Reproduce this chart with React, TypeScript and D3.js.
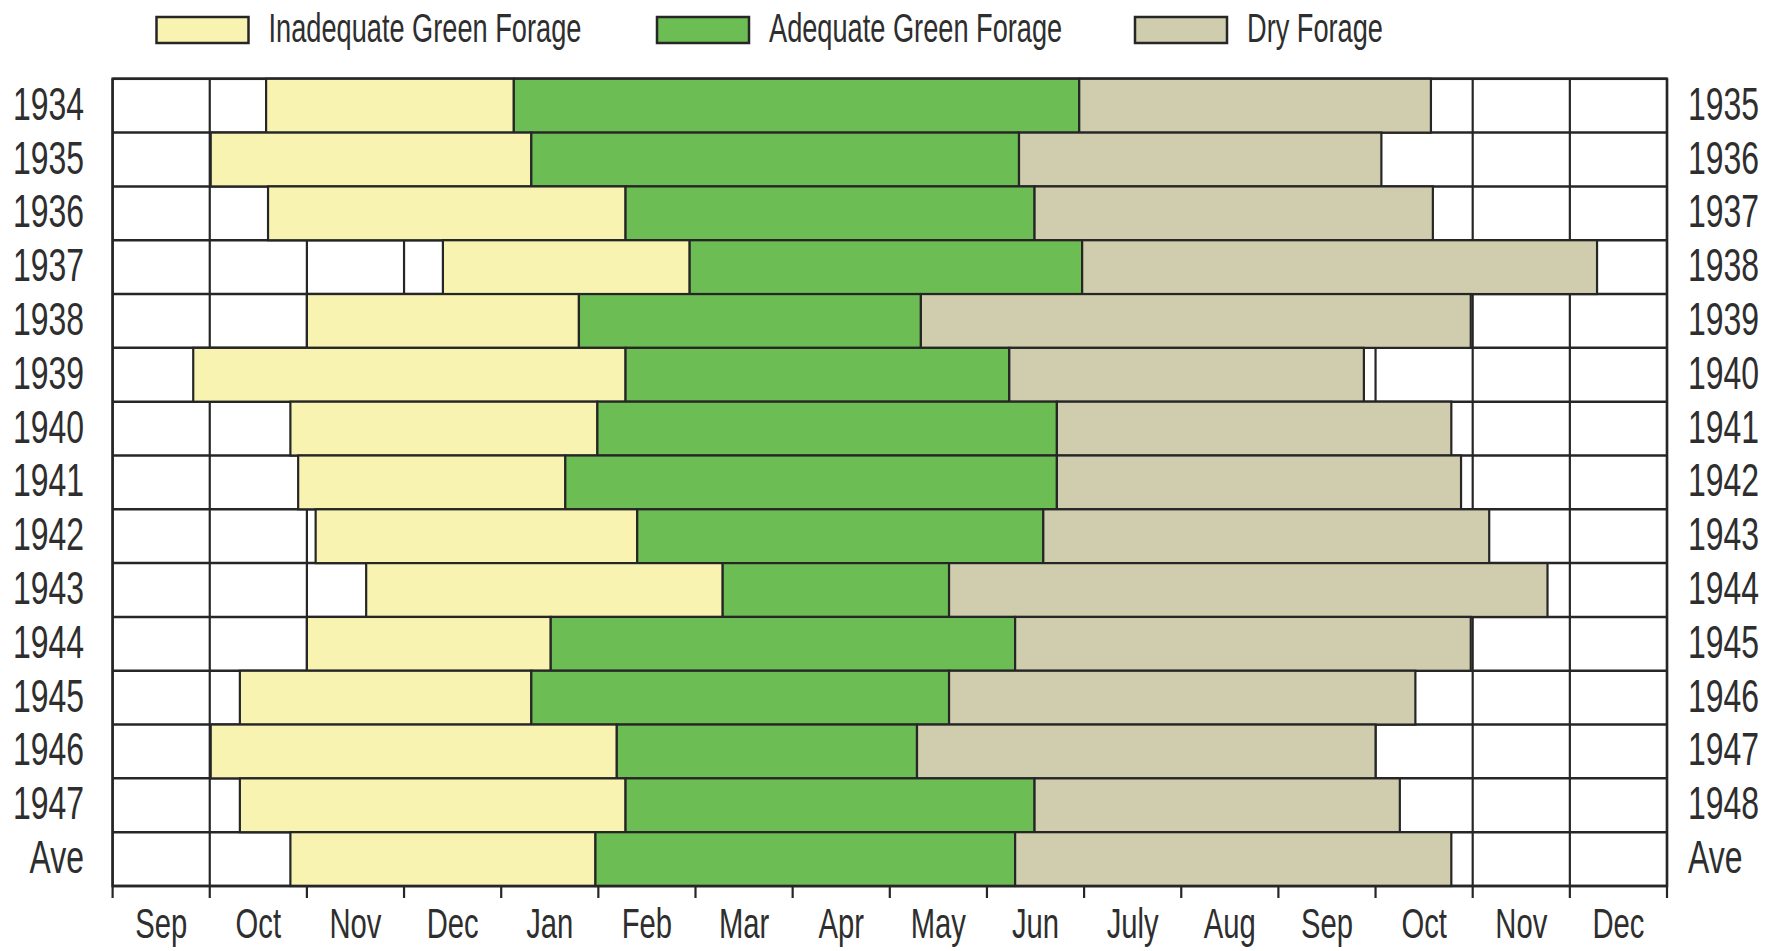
import React from 'react';
import * as d3 from 'd3';

// rows, left and right year labels
const rowLabels = ['1934', '1935', '1936', '1937', '1938', '1939', '1940', '1941', '1942', '1943', '1944', '1945', '1946', '1947', 'Ave'];
const rightLabels = ['1935', '1936', '1937', '1938', '1939', '1940', '1941', '1942', '1943', '1944', '1945', '1946', '1947', '1948', 'Ave'];
const months = ['Sep', 'Oct', 'Nov', 'Dec', 'Jan', 'Feb', 'Mar', 'Apr', 'May', 'Jun', 'July', 'Aug', 'Sep', 'Oct', 'Nov', 'Dec'];

// months counted from 1 Sep of the first year
const inadequateStart = [1.58, 1.01, 1.60, 3.40, 2.00, 0.83, 1.83, 1.91, 2.09, 2.61, 2.00, 1.31, 1.01, 1.31, 1.83];
const adequateStart = [4.13, 4.31, 5.28, 5.94, 4.80, 5.28, 4.99, 4.66, 5.40, 6.28, 4.51, 4.31, 5.19, 5.28, 4.97];
const dryStart = [9.95, 9.33, 9.49, 9.98, 8.32, 9.23, 9.72, 9.72, 9.58, 8.61, 9.29, 8.61, 8.28, 9.49, 9.29];
const dryEnd = [13.57, 13.06, 13.59, 15.28, 13.98, 12.88, 13.78, 13.88, 14.17, 14.77, 13.98, 13.41, 13.00, 13.25, 13.78];

const seriesNames = ['Inadequate Green Forage', 'Adequate Green Forage', 'Dry Forage'];
const colors = ['#f8f3b0', '#6cbd54', '#cfcdad'];

const W = 1765, H = 951;
const left = 112.6, right = 1667, top = 78.8, bottom = 886;
const ink = '#262626';
const textInk = '#2e2e2e';
const font = "'Liberation Sans', Arial, sans-serif";
const sx = 0.68;

function Label(props: { x: number; y: number; text: string; size: number; anchor?: string }) {
  return (
    <text
      transform={`translate(${props.x},${props.y}) scale(${sx},1)`}
      textAnchor={props.anchor || 'start'}
      fontSize={props.size}
      fontFamily={font}
      fill={textInk}
    >
      {props.text}
    </text>
  );
}

export default function App() {
  const x = d3.scaleLinear().domain([0, months.length]).range([left, right]);
  const y = d3.scaleBand<string>().domain(rowLabels).range([top, bottom]).padding(0);
  const bh = y.bandwidth();

  const bars = rowLabels.map((r, i) => [
    { s: 0, a: inadequateStart[i], b: adequateStart[i] },
    { s: 1, a: adequateStart[i], b: dryStart[i] },
    { s: 2, a: dryStart[i], b: dryEnd[i] },
  ]);

  const ticks = d3.range(0, months.length + 1);
  const legendX = [156.5, 657, 1135];

  return (
    <svg width={W} height={H} style={{ position: 'absolute', left: 0, top: 0, background: '#fff' }}>
      {/* legend */}
      {seriesNames.map((n, i) => (
        <g key={n}>
          <rect x={legendX[i]} y={17} width={92} height={26} fill={colors[i]} stroke={ink} strokeWidth={2.5} />
          <Label x={legendX[i] + 112} y={42} text={n} size={40} />
        </g>
      ))}

      {/* grid */}
      <rect x={left} y={top} width={right - left} height={bottom - top} fill="#fff" stroke={ink} strokeWidth={2.5} />
      {ticks.map((t) => (
        <line key={'v' + t} x1={x(t)} x2={x(t)} y1={top} y2={bottom} stroke={ink} strokeWidth={2.2} />
      ))}
      {rowLabels.map((r) => (
        <line key={'h' + r} x1={left} x2={right} y1={y(r)!} y2={y(r)!} stroke={ink} strokeWidth={2.5} />
      ))}

      {/* bars */}
      {rowLabels.map((r, i) => (
        <g key={'b' + r}>
          {bars[i].map((d) => (
            <rect
              key={d.s}
              x={x(d.a)}
              y={y(r)!}
              width={x(d.b) - x(d.a)}
              height={bh}
              fill={colors[d.s]}
              stroke={ink}
              strokeWidth={2.2}
            />
          ))}
        </g>
      ))}

      {/* bottom axis */}
      <line x1={left} x2={right} y1={bottom} y2={bottom} stroke={ink} strokeWidth={2.5} />
      {ticks.map((t) => (
        <line key={'t' + t} x1={x(t)} x2={x(t)} y1={bottom} y2={bottom + 12} stroke={ink} strokeWidth={2.2} />
      ))}
      {months.map((m, i) => (
        <Label key={'m' + i} x={x(i + 0.5)} y={938} text={m} size={43} anchor="middle" />
      ))}

      {/* year labels */}
      {rowLabels.map((r) => (
        <Label key={'l' + r} x={84} y={y(r)! + bh / 2 + 14} text={r} size={47} anchor="end" />
      ))}
      {rowLabels.map((r, i) => (
        <Label key={'r' + r} x={1688} y={y(r)! + bh / 2 + 14} text={rightLabels[i]} size={47} />
      ))}
    </svg>
  );
}
